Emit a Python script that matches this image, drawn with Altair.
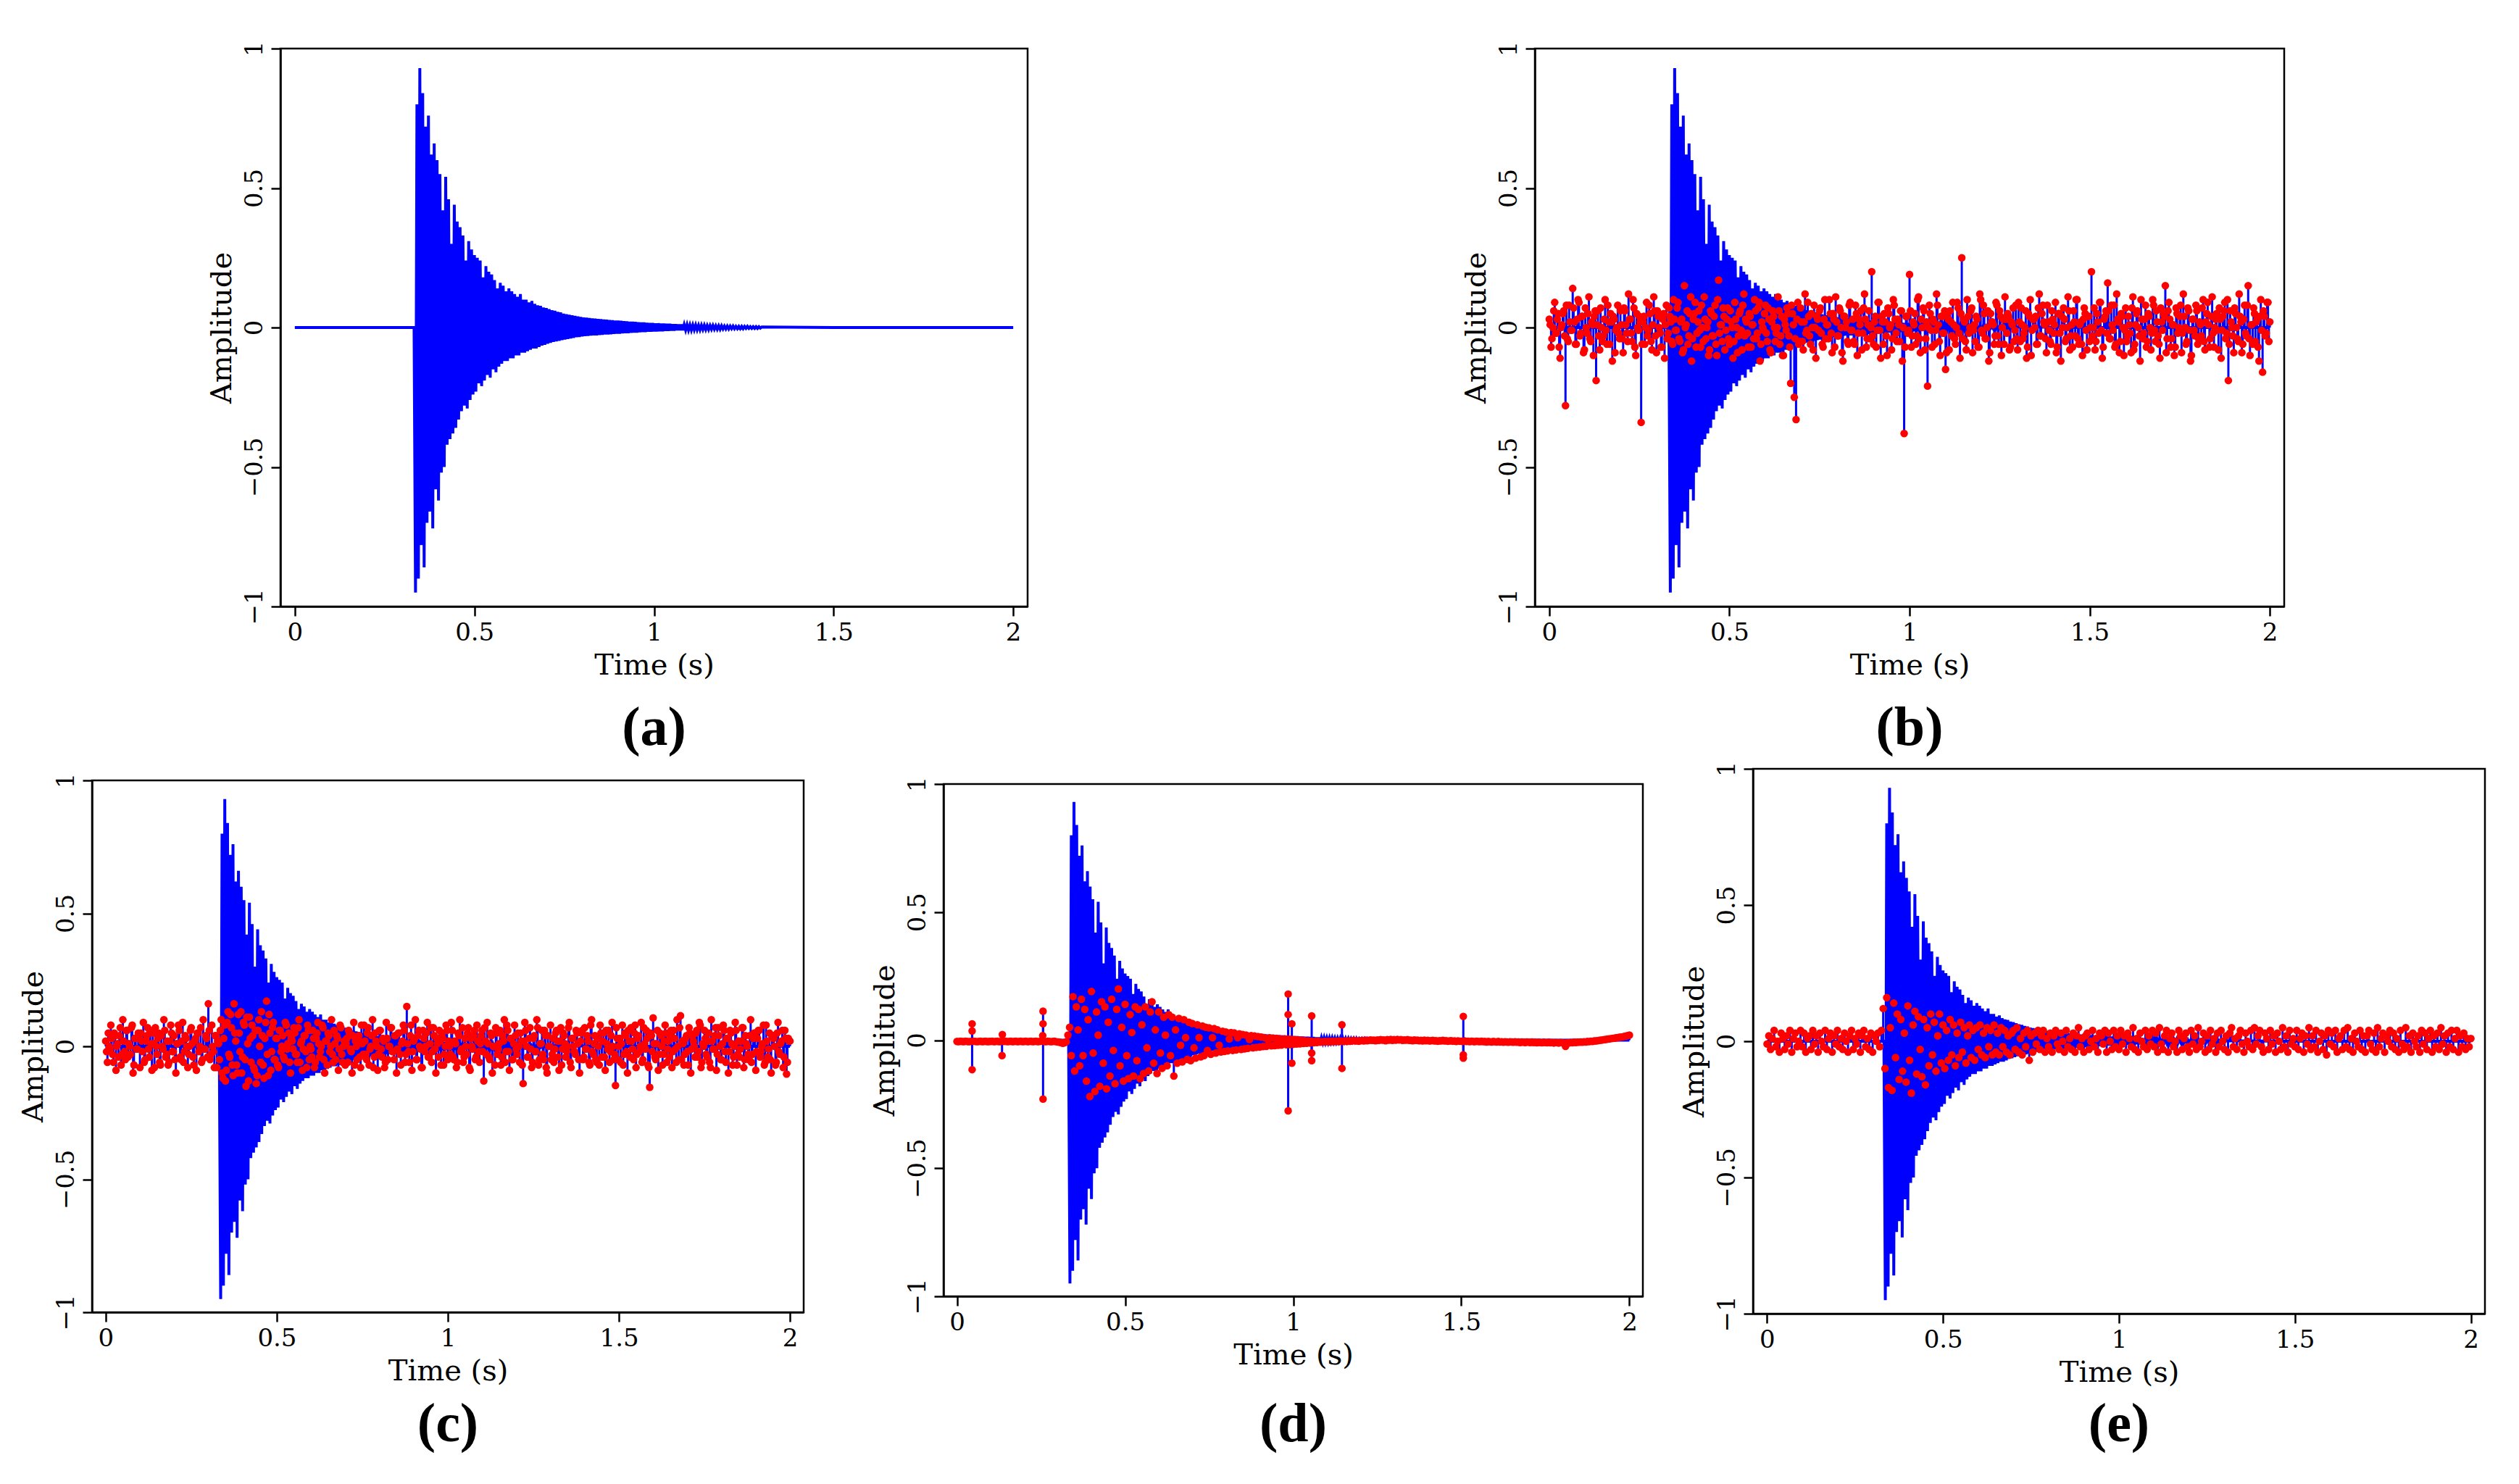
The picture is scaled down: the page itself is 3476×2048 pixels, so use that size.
import altair as alt
import pandas as pd

# ---------------- data ----------------
# clean (blue) trace: flat zero, onset at 0.332 s, decaying oscillation (4 ms samples), flat zero
CLEAN_ONSET = 0.332
CLEAN_DT = 0.004
CLEAN_SIGNAL = [
    0.00, -0.95, 0.80, -0.90, 0.93, -0.78, 0.84, -0.86, 0.72, -0.70,
    0.76, -0.66, 0.62, -0.72, 0.66, -0.58, 0.60, -0.62,
    0.55, -0.52, 0.42, -0.50, 0.54, -0.42, 0.46, -0.40, 0.30, -0.38,
    0.44, -0.36, 0.38, -0.33, 0.36, -0.30, 0.33, -0.28, 0.24, -0.29,
    0.31, -0.26, 0.28, -0.24, 0.26,
    -0.23, 0.25, -0.20, 0.24, -0.21, 0.18, -0.19, 0.22, -0.17, 0.20,
    -0.18, 0.19, -0.15, 0.17, -0.16, 0.14, -0.14, 0.16, -0.13, 0.15,
    -0.12, 0.13, -0.12, 0.14, -0.11,
    0.13, -0.11, 0.12, -0.10, 0.11, -0.10, 0.12, -0.09, 0.10, -0.09,
    0.10, -0.085, 0.09, -0.08, 0.095, -0.075, 0.085, -0.075, 0.08, -0.07,
    0.078, -0.065, 0.072, -0.062, 0.07, -0.058, 0.066, -0.055, 0.062, -0.052,
    0.06, -0.05, 0.056, -0.048, 0.054, -0.045, 0.05, -0.043, 0.048, -0.041,
    0.046, -0.039, 0.044, -0.037, 0.042, -0.035, 0.04, -0.034, 0.038, -0.032,
    0.036, -0.031, 0.035, -0.030, 0.034, -0.029, 0.033, -0.028, 0.032, -0.028,
    0.031, -0.027, 0.030, -0.026, 0.029, -0.025, 0.028, -0.025, 0.027, -0.024,
    0.026, -0.023, 0.025, -0.022, 0.025, -0.022, 0.024, -0.021, 0.023, -0.020,
    0.022, -0.020, 0.021, -0.019, 0.021, -0.018, 0.020, -0.018, 0.019, -0.017,
    0.018, -0.016, 0.018, -0.016, 0.017, -0.015, 0.016, -0.015, 0.016, -0.014,
    0.015, -0.014, 0.015, -0.013, 0.014, -0.013, 0.014, -0.012, 0.013, -0.012,
    0.013, -0.011, 0.012, -0.011, 0.012, -0.010, 0.011, -0.010, 0.011, -0.010,
    0.010, -0.009, 0.010, -0.009, 0.009, -0.009, 0.009, -0.008, 0.009, -0.008,
    0.008, -0.008, 0.008, -0.007, 0.008, -0.007, 0.007, -0.007, 0.007, -0.006,
    0.007, -0.006, 0.006, -0.006, 0.006, -0.006, 0.006, -0.005, 0.005, -0.005,
    0.005, -0.005, 0.005, -0.004, 0.005, -0.004, 0.004, -0.004, 0.004, -0.004,
    0.004, -0.004, 0.004, -0.003, 0.004, -0.003, 0.003, -0.003, 0.003, -0.003,
    0.003, -0.003, 0.003, -0.002, 0.002,
]
QUIET_END = 1.50
T_END = 2.0

# red samples (one every 5 ms) for panels b-e
RED_DT = 0.005
NOISY_B = [
    0.03, -0.07, 0.00, 0.09, -0.02, 0.05, -0.11, 0.01, 0.06, -0.28,
    -0.04, 0.08, -0.01, 0.14, 0.02, -0.06, 0.10, -0.03, 0.04, -0.09,
    0.07, -0.02, 0.11, -0.05, 0.01, 0.04, -0.19, 0.06, -0.08, 0.00,
    -0.03, 0.10, -0.06, 0.02, 0.05, -0.12, 0.03, -0.01, 0.08, -0.04,
    0.01, -0.09, 0.06, -0.02, 0.12, 0.03, -0.05, 0.07, -0.10, 0.00,
    0.04, -0.34, 0.02, -0.06, 0.09, -0.01, 0.05, -0.08, 0.11, -0.03,
    0.06, 0.00, -0.07, 0.03, -0.11, 0.08, -0.02, 0.04, -0.05, 0.10,
    -0.01, 0.07, -0.04, 0.02, -0.09, 0.15, 0.01, -0.06, 0.05, -0.12,
    0.03, 0.09, -0.02, 0.06, -0.07, 0.00, 0.11, -0.04, 0.02, -0.08,
    0.05, -0.03, 0.08, -0.10, 0.17, 0.01, -0.05, 0.04, -0.01, 0.07,
    -0.06, 0.02, -0.11, 0.09, 0.00, -0.03, 0.06, -0.08, 0.12, 0.03,
    -0.02, 0.05, -0.07, 0.01, 0.10, -0.04, 0.07, -0.12, 0.02, -0.01,
    0.08, -0.05, 0.03, -0.09, 0.06, 0.00, -0.02, 0.11, -0.06, 0.04,
    -0.10, 0.01, 0.07, -0.03, -0.20, 0.05, -0.25, -0.33, 0.09, -0.05,
    0.02, -0.08, 0.12, -0.01, 0.04, -0.06, 0.00, 0.08, -0.11, 0.03,
    0.06, -0.02, -0.07, 0.10, 0.01, -0.04, 0.05, -0.09, 0.03, 0.11,
    -0.03, 0.07, 0.00, -0.12, 0.04, 0.02, -0.06, 0.09, -0.01, -0.05,
    0.08, -0.10, 0.03, 0.06, -0.02, 0.12, -0.07, 0.01, -0.04, 0.20,
    -0.06, 0.04, -0.01, 0.09, -0.11, 0.02, 0.05, -0.03, 0.07, 0.00,
    -0.08, 0.10, 0.03, -0.05, 0.01, 0.06, -0.12, -0.38, 0.04, -0.02,
    0.19, -0.07, 0.02, 0.05, -0.03, 0.11, -0.09, 0.00, 0.06, -0.04,
    -0.21, 0.08, -0.01, 0.03, -0.06, 0.12, 0.01, -0.10, 0.04, -0.02,
    -0.15, 0.05, -0.08, 0.02, 0.09, -0.04, 0.00, 0.07, -0.11, 0.25,
    0.03, -0.05, 0.10, -0.02, 0.06, -0.09, 0.01, 0.04, -0.07, 0.12,
    -0.01, 0.08, -0.04, 0.00, -0.12, 0.05, 0.02, -0.06, 0.09, -0.03,
    0.06, -0.10, 0.03, 0.11, -0.02, 0.04, -0.07, 0.01, -0.05, 0.08,
    -0.08, 0.02, 0.07, -0.04, 0.00, -0.11, 0.05, 0.10, -0.01, 0.03,
    0.04, -0.06, 0.12, -0.03, 0.08, 0.01, -0.09, 0.02, -0.05, 0.06,
    -0.02, 0.09, -0.07, 0.05, -0.12, 0.00, 0.03, -0.04, 0.11, -0.08,
    0.01, 0.06, -0.03, 0.10, -0.06, 0.02, -0.10, 0.07, -0.01, 0.04,
    -0.05, 0.20, 0.00, -0.08, 0.05, -0.02, 0.09, -0.11, 0.03, 0.06,
    0.16, -0.04, 0.08, -0.01, -0.07, 0.12, 0.02, -0.05, 0.04, -0.10,
    0.07, -0.03, 0.01, -0.09, 0.11, -0.06, 0.05, 0.00, -0.12, 0.03,
    -0.02, 0.08, -0.05, 0.04, -0.08, 0.10, -0.01, 0.06, -0.03, -0.11,
    0.02, 0.05, 0.15, -0.04, 0.09, -0.07, 0.01, -0.10, 0.07, -0.02,
    0.04, -0.09, 0.12, 0.00, -0.05, 0.06, -0.12, 0.03, -0.01, 0.08,
    -0.06, 0.02, -0.03, 0.10, -0.08, 0.05, 0.01, -0.04, 0.11, -0.07,
    0.03, -0.01, 0.07, -0.11, 0.04, 0.09, -0.02, -0.19, 0.06, 0.00,
    -0.09, 0.05, -0.04, 0.12, 0.02, -0.06, 0.08, -0.03, 0.15, -0.10,
    0.01, 0.07, -0.05, 0.03, -0.12, 0.10, -0.16, 0.04, -0.02, 0.09,
    0.02,
]
# in-between samples of panel b (half a step later)
NOISY_B_MID = [
    0.01, -0.04, 0.06, -0.02, 0.03, -0.07, 0.00, 0.05, -0.03, 0.08,
    -0.05, 0.02, -0.01, 0.07, -0.06, 0.03, 0.09, -0.02, 0.04, -0.08,
    0.00, 0.05, -0.04, 0.02, -0.10, 0.06, 0.01, -0.03, 0.07, -0.05,
    0.03, -0.01, 0.08, -0.06, 0.02, 0.04, -0.09, 0.00, -0.02, 0.06,
    -0.04, 0.07, 0.01, -0.05, 0.03, -0.02, 0.10, -0.07, 0.05, -0.01,
    0.02, -0.06, 0.04, 0.00, -0.03, 0.08, -0.05, 0.01, 0.06, -0.09,
    0.04, -0.02, -0.07, 0.05, 0.01, -0.04, 0.07, 0.02, -0.06, 0.03,
    -0.01, 0.09, -0.05, 0.03, -0.08, 0.00, 0.06, -0.03, 0.11, -0.04,
    0.05, -0.07, 0.02, -0.01, 0.08, -0.05, 0.03, 0.00, -0.10, 0.06,
    -0.03, 0.04, -0.06, 0.10, -0.02, 0.01, 0.07, -0.08, 0.03, -0.04,
    0.06, 0.00, -0.05, 0.03, -0.09, 0.05, -0.01, 0.08, -0.03, 0.02,
    -0.07, 0.04, 0.01, -0.04, 0.06, -0.02, 0.09, -0.06, 0.00, 0.05,
    -0.02, 0.07, -0.08, 0.02, 0.04, -0.05, 0.00, 0.06, -0.03, -0.10,
    0.03, -0.01, 0.05, -0.07, 0.08, 0.01, -0.04, 0.03, -0.06, 0.07,
    -0.05, 0.02, -0.02, 0.09, -0.03, 0.05, -0.08, 0.00, 0.04, -0.01,
    0.07, -0.06, 0.03, -0.04, 0.01, 0.10, -0.02, 0.05, -0.07, 0.02,
    -0.03, 0.06, -0.09, 0.04, 0.00, -0.05, 0.08, -0.01, 0.03, -0.06,
    0.05, -0.02, 0.01, -0.08, 0.07, 0.03, -0.04, 0.06, 0.00, -0.03,
    0.02, -0.07, 0.09, -0.01, 0.04, -0.06, 0.02, -0.10, 0.05, 0.01,
    -0.04, 0.08, -0.02, 0.03, -0.05, 0.06, 0.00, -0.07, 0.04, -0.01,
    0.06, -0.03, 0.01, -0.06, 0.10, -0.04, 0.03, 0.07, -0.08, 0.02,
    0.00, 0.05, -0.07, 0.02, -0.01, 0.08, -0.05, 0.04, -0.02, 0.06,
    -0.09, 0.03, 0.06, -0.03, 0.01, -0.06, 0.09, -0.02, 0.05, -0.04,
    0.02, -0.08, 0.04, 0.00, 0.07, -0.01, -0.05, 0.03, -0.07, 0.10,
    -0.02, 0.05, -0.04, 0.06, -0.09, 0.02, 0.01, -0.03, 0.08, -0.06,
    0.04, 0.00, -0.06, 0.03, 0.05, -0.08, 0.02, 0.07, -0.01, -0.04,
    0.09, -0.05, 0.01, -0.02, 0.06, -0.07, 0.04, -0.10, 0.03, 0.00,
    -0.06, 0.07, -0.03, 0.05, 0.02, -0.04, 0.08, -0.01, -0.06, 0.03,
    0.01, -0.09, 0.05, -0.02, 0.04, 0.07, -0.05, 0.00, 0.06, -0.03,
    -0.07, 0.02, 0.10, -0.04, 0.01, -0.06, 0.03, 0.05, -0.08, 0.04,
    0.00, -0.03, 0.07, -0.05, 0.02, 0.09, -0.01, -0.07, 0.04, -0.02,
    0.06, -0.04, 0.01, 0.08, -0.06, 0.03, -0.09, 0.05, 0.00, -0.01,
    -0.05, 0.04, -0.02, 0.07, -0.08, 0.01, 0.06, -0.03, 0.10, -0.04,
    0.03, -0.07, 0.05, 0.00, -0.02, 0.08, -0.05, 0.02, -0.06, 0.07,
    -0.01, 0.04, -0.09, 0.06, 0.03, -0.04, 0.01, -0.07, 0.05, 0.00,
    0.08, -0.02, 0.04, -0.06, 0.07, -0.01, -0.10, 0.03, -0.03, 0.06,
    -0.04, 0.01, 0.07, -0.05, 0.02, 0.09, -0.07, 0.04, -0.02, 0.00,
    0.05, -0.08, 0.03, -0.01, 0.06, -0.04, 0.10, -0.06, 0.02, -0.03,
    0.07, 0.00, -0.05, 0.04, -0.09, 0.03, -0.02, 0.08, -0.04, 0.01,
    -0.06, 0.05, 0.02, -0.07, 0.04, -0.01, 0.06, -0.03, 0.09, -0.05,
]
NOISY_C = [
    0.02, -0.06, 0.00, 0.08, -0.03, 0.05, -0.09, 0.01, 0.04, -0.07,
    0.10, -0.02, 0.06, -0.04, 0.00, 0.07, -0.10, 0.03, -0.01, 0.05,
    -0.08, 0.02, 0.09, -0.05, 0.04, -0.01, 0.06, -0.09, 0.01, 0.07,
    -0.03, 0.05, -0.07, 0.00, 0.10, -0.04, 0.02, -0.06, 0.08, -0.02,
    0.04, -0.10, 0.01, 0.06, -0.05, 0.09, -0.02, 0.03, -0.08, 0.00,
    0.07, -0.04, 0.02, -0.09, 0.05, 0.00, -0.06, 0.10, -0.01, 0.03,
    0.16, -0.05, 0.08, -0.02, 0.04, -0.08, 0.01, 0.06, -0.10, 0.03,
    -0.13, 0.09, -0.03, 0.12, -0.07, 0.16, 0.02, -0.10, 0.05, 0.13,
    -0.04, 0.08, -0.15, 0.01, 0.11, -0.06, 0.04, -0.09, -0.14, 0.06,
    0.00, 0.13, -0.07, 0.03, 0.17, -0.11, 0.05, -0.02, 0.09, -0.05,
    0.03, -0.08, 0.06, 0.00, -0.04, 0.09, -0.01, 0.05, -0.10, 0.02,
    0.07, -0.03, -0.06, 0.10, 0.01, -0.09, 0.04, -0.02, 0.08, -0.05,
    -0.01, 0.06, -0.08, 0.03, 0.09, -0.04, 0.00, 0.07, -0.10, 0.02,
    0.05, -0.02, 0.10, -0.06, 0.01, 0.04, -0.09, 0.08, -0.03, 0.00,
    -0.07, 0.03, 0.06, -0.01, -0.10, 0.09, 0.02, -0.05, 0.04, -0.08,
    0.01, 0.08, -0.03, 0.05, -0.07, 0.00, 0.10, -0.04, 0.02, -0.09,
    0.06, -0.01, 0.03, -0.08, 0.09, -0.05, 0.00, 0.07, -0.02, 0.04,
    -0.10, 0.05, -0.03, 0.01, 0.08, -0.06, 0.15, -0.02, 0.04, -0.09,
    0.02, 0.10, -0.05, 0.06, -0.01, -0.08, 0.03, 0.00, 0.09, -0.04,
    0.07, -0.02, 0.04, -0.10, 0.01, 0.06, -0.07, 0.03, -0.03, 0.08,
    -0.05, 0.00, 0.09, -0.04, 0.02, -0.08, 0.05, 0.10, -0.01, -0.06,
    0.03, -0.03, 0.07, -0.09, 0.00, 0.04, -0.05, 0.08, -0.02, 0.01,
    0.06, -0.13, 0.02, 0.09, -0.04, 0.05, -0.10, 0.00, 0.07, -0.03,
    0.01, -0.07, 0.04, 0.10, -0.02, 0.06, -0.09, 0.03, -0.05, 0.08,
    -0.01, 0.05, -0.06, 0.02, -0.14, 0.09, 0.00, -0.04, 0.07, -0.08,
    0.03, -0.02, 0.10, -0.07, 0.01, 0.06, -0.05, 0.04, -0.10, 0.00,
    0.08, -0.03, -0.06, 0.05, 0.02, -0.09, 0.07, -0.01, 0.04, -0.04,
    0.00, 0.09, -0.08, 0.03, -0.02, 0.06, 0.01, -0.10, 0.05, -0.05,
    0.07, -0.01, 0.02, -0.07, 0.10, -0.03, 0.04, -0.06, 0.00, 0.08,
    -0.04, 0.05, -0.09, 0.01, 0.06, -0.02, 0.09, -0.05, -0.147, 0.03,
    0.00, -0.06, 0.08, -0.03, 0.04, -0.10, 0.02, 0.07, -0.01, 0.05,
    -0.08, 0.03, -0.02, 0.09, -0.05, 0.01, 0.06, -0.07, -0.154, 0.04,
    0.107, -0.04, 0.01, -0.09, 0.05, 0.00, -0.03, 0.08, -0.06, 0.02,
    0.04, -0.08, 0.06, -0.01, 0.10, -0.05, 0.115, 0.02, -0.07, 0.03,
    -0.02, 0.07, -0.10, 0.04, 0.00, 0.05, -0.04, 0.09, -0.08, 0.01,
    0.06, -0.03, 0.02, -0.06, 0.10, -0.01, 0.04, -0.09, 0.07, 0.00,
    -0.05, 0.08, -0.02, 0.03, -0.10, 0.06, 0.01, -0.04, 0.09, -0.07,
    0.02, -0.01, 0.07, -0.08, 0.04, 0.00, -0.05, 0.10, -0.03, 0.05,
    -0.09, 0.03, 0.06, -0.02, 0.01, -0.07, 0.08, -0.04, 0.05, -0.10,
    0.04, 0.00, -0.06, 0.09, -0.03, 0.02, -0.08, 0.06, -0.104, 0.03,
    0.02,
]
# in-between samples of panel c (half a step later)
NOISY_C_MID = [
    -0.02, 0.05, -0.01, 0.03, -0.06, 0.04, 0.00, -0.04, 0.07, -0.03,
    0.02, -0.05, 0.06, 0.01, -0.03, 0.08, -0.07, 0.03, -0.01, 0.04,
    0.05, -0.02, -0.06, 0.02, 0.07, -0.04, 0.01, 0.05, -0.08, 0.00,
    0.03, -0.06, 0.04, -0.01, 0.06, -0.03, -0.07, 0.02, 0.05, -0.02,
    -0.05, 0.01, 0.08, -0.04, 0.02, -0.06, 0.04, 0.00, -0.03, 0.06,
    0.01, -0.07, 0.03, 0.05, -0.02, 0.07, -0.05, -0.01, 0.04, -0.04,
    0.06, -0.03, 0.00, -0.08, 0.04, 0.02, -0.05, 0.10, -0.12, 0.08,
    -0.09, 0.13, -0.04, 0.07, -0.11, 0.05, -0.07, 0.12, -0.02, -0.10,
    0.09, -0.05, 0.11, -0.13, 0.03, 0.08, -0.08, 0.06, -0.11, 0.10,
    -0.06, 0.04, -0.12, 0.09, -0.03, 0.12, -0.09, 0.07, -0.05, 0.03,
    -0.07, 0.06, -0.02, 0.04, -0.05, 0.08, 0.01, -0.06, 0.03, -0.01,
    0.05, -0.03, 0.07, -0.06, 0.02, -0.01, 0.04, -0.08, 0.06, 0.00,
    -0.04, 0.03, -0.06, 0.05, 0.01, -0.02, 0.08, -0.05, 0.02, -0.07,
    0.04, 0.00, -0.03, 0.06, -0.05, 0.03, -0.01, 0.07, -0.06, 0.02,
    0.01, -0.06, 0.05, -0.02, 0.04, -0.07, 0.00, 0.03, -0.04, 0.08,
    -0.03, 0.02, -0.05, 0.07, -0.01, 0.04, -0.08, 0.05, 0.00, -0.03,
    0.06, -0.04, 0.02, -0.06, 0.03, 0.00, 0.07, -0.02, -0.05, 0.04,
    -0.01, 0.05, -0.07, 0.02, 0.06, -0.03, 0.01, -0.06, 0.08, -0.02,
    0.03, -0.05, 0.04, 0.00, -0.08, 0.06, -0.02, 0.05, -0.04, 0.01,
    -0.06, 0.07, -0.01, 0.03, -0.04, 0.02, 0.05, -0.07, 0.00, 0.06,
    0.02, -0.03, 0.06, -0.05, 0.01, -0.06, 0.04, -0.02, 0.07, -0.04,
    0.00, 0.05, -0.08, 0.03, -0.01, 0.06, -0.04, 0.02, -0.06, 0.04,
    -0.02, 0.07, -0.03, 0.01, -0.05, 0.04, 0.00, -0.07, 0.05, -0.01,
    0.06, -0.04, 0.02, -0.06, 0.08, -0.02, 0.03, -0.05, 0.01, 0.04,
    -0.03, 0.00, 0.05, -0.07, 0.02, 0.06, -0.04, 0.03, -0.01, -0.06,
    0.04, -0.02, 0.07, -0.05, 0.01, -0.03, 0.06, -0.08, 0.04, 0.00,
    -0.05, 0.03, -0.01, 0.06, -0.04, 0.02, -0.07, 0.05, 0.01, -0.02,
    0.07, -0.06, 0.03, 0.00, -0.03, 0.05, -0.05, 0.02, 0.06, -0.04,
    -0.01, 0.04, -0.06, 0.08, -0.02, 0.01, -0.05, 0.03, -0.07, 0.05,
    0.02, -0.04, 0.06, -0.01, -0.06, 0.04, 0.00, -0.03, 0.07, -0.05,
    0.03, 0.01, -0.07, 0.05, -0.02, 0.06, -0.04, 0.02, -0.05, 0.08,
    -0.03, 0.04, 0.00, -0.06, 0.07, -0.01, 0.03, -0.08, 0.05, -0.02,
    0.01, -0.05, 0.06, -0.03, 0.04, -0.07, 0.02, 0.05, -0.01, -0.04,
    0.06, -0.02, 0.03, -0.06, 0.00, 0.07, -0.05, 0.01, -0.03, 0.04,
    -0.07, 0.05, -0.01, 0.02, -0.04, 0.06, -0.02, 0.08, -0.06, 0.00,
    0.03, -0.04, 0.05, -0.08, 0.02, -0.01, 0.07, -0.03, 0.04, -0.05,
    0.01, 0.06, -0.06, 0.03, -0.02, 0.05, -0.07, 0.00, 0.06, -0.03,
    -0.04, 0.02, 0.07, -0.05, 0.01, -0.03, 0.04, -0.06, 0.03, 0.05,
    -0.02, 0.06, -0.04, 0.00, 0.08, -0.06, 0.02, -0.01, -0.05, 0.04,
    0.03, -0.07, 0.05, -0.02, 0.01, 0.06, -0.04, 0.03, -0.06, 0.02,
]
NOISY_D = [
    -0.005, -0.006, -0.004, -0.005, -0.006, -0.004, -0.005, -0.006, -0.005, 0.036,
    -0.004, -0.005, -0.006, -0.005, -0.004, -0.006, -0.005, -0.004, -0.006, -0.005,
    -0.005, -0.004, -0.006, -0.005, -0.004, -0.006, -0.005, 0.022, -0.005, -0.004,
    -0.006, -0.005, -0.004, -0.006, -0.005, -0.004, -0.006, -0.005, -0.004, -0.006,
    -0.005, -0.004, -0.006, -0.005, -0.004, -0.006, -0.005, -0.004, -0.006, -0.005,
    -0.004, 0.018, -0.005, -0.006, -0.004, -0.005, -0.006, -0.005, -0.004, -0.006,
    -0.007, -0.008, -0.010, -0.012, -0.010, -0.006, 0.020, 0.050, -0.060, 0.170,
    -0.120, 0.130, 0.040, -0.100, 0.160, -0.060, 0.120, -0.160, 0.080, -0.220,
    0.190, -0.050, -0.200, 0.110, 0.020, -0.180, 0.150, -0.090, 0.130, -0.190,
    0.070, -0.140, 0.160, -0.040, -0.170, 0.120, 0.200, -0.100, 0.050, -0.160,
    0.140, -0.060, -0.150, 0.100, 0.030, -0.140, 0.130, -0.080, 0.120, -0.150,
    0.060, -0.130, 0.130, -0.030, -0.120, 0.110, 0.150, -0.090, 0.040, -0.130,
    0.110, -0.050, -0.110, 0.090, 0.020, -0.100, 0.100, -0.060, 0.090, -0.140,
    0.040, -0.090, 0.085, -0.020, -0.085, 0.080, 0.010, -0.075, 0.070, -0.080,
    0.065, -0.030, -0.070, 0.060, 0.010, -0.065, 0.055, -0.060, 0.050, -0.040,
    0.048, -0.055, 0.010, 0.045, -0.050, 0.040, -0.020, -0.046, 0.035, -0.044,
    0.032, -0.042, 0.005, 0.030, -0.040, 0.028, -0.038, 0.010, 0.025, -0.036,
    0.022, -0.034, 0.020, -0.032, 0.003, 0.018, -0.030, 0.016, -0.028, 0.014,
    -0.027, 0.012, -0.025, 0.010, -0.024, 0.002, 0.009, -0.022, 0.008, -0.021,
    0.007, -0.020, 0.006, -0.019, 0.000, 0.005, -0.018, 0.004, -0.017, 0.003,
    -0.016, 0.002, -0.015, 0.001, -0.014, 0.000, -0.013, -0.002, -0.012, -0.003,
    -0.011, -0.004, -0.010, -0.005, -0.009, -0.004, -0.008, -0.006, -0.007, -0.005,
    -0.006, -0.005, -0.007, -0.004, -0.006, -0.005, -0.004, -0.006, -0.003, -0.005,
    -0.004, -0.003, -0.005, -0.002, -0.004, -0.003, -0.001, -0.003, -0.002, -0.004,
    -0.002, -0.001, -0.003, 0.000, -0.002, -0.001, 0.001, -0.001, 0.000, -0.002,
    0.001, -0.001, 0.002, 0.000, 0.001, -0.002, 0.002, 0.000, 0.003, -0.001,
    0.002, 0.000, 0.003, 0.001, 0.002, -0.001, 0.001, 0.000, 0.002, -0.001,
    0.000, -0.002, 0.001, -0.001, 0.000, -0.002, -0.001, -0.003, 0.000, -0.002,
    -0.001, -0.003, -0.002, -0.001, -0.003, -0.002, -0.004, -0.002, -0.003, -0.001,
    -0.003, -0.002, -0.004, -0.003, -0.002, -0.004, -0.003, -0.005, -0.003, -0.004,
    -0.004, -0.005, -0.003, -0.005, -0.004, -0.006, -0.004, -0.005, -0.006, -0.004,
    -0.005, -0.006, -0.004, -0.006, -0.005, -0.007, -0.005, -0.006, -0.007, -0.005,
    -0.006, -0.007, -0.005, -0.007, -0.006, -0.008, -0.006, -0.007, -0.008, -0.006,
    -0.007, -0.008, -0.006, -0.008, -0.007, -0.009, -0.007, -0.008, -0.009, -0.007,
    -0.008, -0.009, -0.007, -0.009, -0.008, -0.010, -0.008, -0.009, -0.010, -0.008,
    -0.009, -0.010, -0.008, -0.010, -0.009, -0.011, -0.009, -0.010, -0.011, -0.009,
    -0.010, -0.011, -0.024, -0.010, -0.011, -0.009, -0.010, -0.008, -0.009, -0.008,
    -0.008, -0.007, -0.008, -0.006, -0.007, -0.005, -0.006, -0.004, -0.005, -0.003,
    -0.003, -0.002, -0.001, 0.000, 0.001, 0.002, 0.003, 0.004, 0.005, 0.006,
    0.007, 0.008, 0.009, 0.010, 0.011, 0.012, 0.013, 0.015, 0.016, 0.018,
    0.020,
]
# isolated spikes in panel d (time, value)
SPIKES_D_T = [0.045, 0.045, 0.134, 0.256, 0.256, 0.256, 0.985, 0.985, 0.985, 0.996,
              0.996, 1.055, 1.055, 1.055, 1.145, 1.145, 1.506, 1.506, 1.506]
SPIKES_D_V = [0.064, -0.115, -0.060, 0.113, 0.064, -0.230, 0.180, 0.100, -0.276, 0.064,
              -0.090, 0.095, -0.050, -0.080, 0.060, -0.110, 0.093, -0.057, -0.070]
NOISY_E = [
    -0.01, 0.02, -0.03, 0.01, 0.04, -0.02, 0.00, -0.04, 0.03, 0.01,
    -0.03, 0.02, -0.01, 0.04, -0.04, 0.01, 0.03, -0.02, 0.00, 0.04,
    -0.02, 0.03, -0.04, 0.01, 0.02, -0.03, 0.04, -0.01, 0.02, -0.04,
    0.03, 0.00, -0.02, 0.04, -0.03, 0.01, 0.03, -0.04, 0.02, -0.01,
    0.04, -0.02, 0.01, -0.03, 0.03, 0.00, -0.04, 0.02, 0.04, -0.03,
    0.01, -0.01, 0.03, -0.04, 0.02, 0.04, -0.02, 0.01, -0.03, 0.03,
    -0.04, 0.02, 0.00, 0.03, -0.02, 0.04, 0.12, -0.10, 0.16, -0.17,
    0.05, -0.18, 0.14, -0.06, 0.10, -0.14, 0.08, -0.11, 0.03, -0.15,
    0.13, -0.07, -0.19, 0.06, 0.11, -0.12, 0.09, -0.03, -0.13, 0.08,
    -0.16, 0.05, -0.09, 0.10, -0.05, 0.07, -0.11, 0.02, 0.10, -0.08,
    0.06, -0.10, 0.04, -0.07, 0.08, -0.05, 0.06, -0.09, 0.03, -0.06,
    0.07, -0.04, 0.05, -0.08, 0.02, 0.06, -0.06, 0.04, -0.07, 0.05,
    -0.03, 0.06, -0.05, 0.03, -0.06, 0.05, -0.02, 0.04, -0.05, 0.06,
    -0.04, 0.03, -0.05, 0.05, -0.02, 0.04, -0.04, 0.02, -0.05, 0.03,
    0.04, -0.03, 0.05, -0.04, 0.01, -0.05, 0.03, -0.02, 0.04, -0.07,
    0.02, -0.04, 0.03, -0.01, 0.04, -0.03, 0.02, 0.04, -0.04, 0.01,
    -0.02, 0.03, -0.04, 0.02, 0.04, -0.01, -0.03, 0.03, 0.00, -0.04,
    0.04, -0.02, 0.01, -0.03, 0.03, -0.04, 0.02, 0.05, -0.02, 0.01,
    -0.04, 0.02, 0.03, -0.03, 0.00, 0.04, -0.02, 0.01, -0.04, 0.03,
    0.02, -0.01, 0.04, -0.04, 0.03, 0.00, -0.03, 0.04, -0.02, 0.02,
    -0.03, 0.04, -0.01, 0.02, -0.04, 0.03, 0.01, -0.02, 0.05, -0.03,
    0.01, -0.04, 0.03, 0.00, -0.02, 0.04, -0.03, 0.02, -0.01, 0.04,
    -0.02, 0.03, -0.04, 0.05, -0.01, -0.03, 0.02, 0.04, -0.04, 0.01,
    0.03, -0.02, 0.00, -0.04, 0.04, 0.02, -0.03, 0.01, 0.03, -0.02,
    -0.04, 0.04, -0.01, 0.02, -0.03, 0.05, -0.02, 0.00, 0.03, -0.04,
    0.02, -0.03, 0.04, -0.01, 0.01, -0.04, 0.03, -0.02, 0.04, 0.00,
    -0.03, 0.02, -0.04, 0.03, 0.05, -0.02, 0.01, -0.03, 0.02, 0.04,
    -0.01, -0.04, 0.03, 0.00, -0.02, 0.04, -0.03, 0.05, -0.01, 0.02,
    0.04, -0.02, -0.04, 0.03, 0.01, -0.03, 0.04, -0.01, 0.02, -0.04,
    0.03, 0.00, -0.03, 0.05, -0.02, 0.02, -0.04, 0.04, -0.01, 0.01,
    -0.02, 0.04, -0.03, 0.01, 0.03, -0.04, 0.02, -0.01, 0.05, -0.03,
    0.02, -0.02, 0.04, -0.04, 0.00, 0.03, -0.03, 0.02, -0.05, 0.04,
    -0.01, 0.03, -0.02, 0.04, -0.04, 0.01, 0.02, -0.03, 0.04, -0.02,
    0.05, -0.03, 0.01, -0.04, 0.03, 0.00, -0.02, 0.04, -0.03, 0.02,
    -0.04, 0.02, 0.04, -0.01, -0.03, 0.03, -0.04, 0.05, -0.02, 0.01,
    0.03, -0.04, 0.02, 0.00, 0.04, -0.02, 0.03, -0.03, 0.01, -0.04,
    0.04, -0.01, -0.03, 0.05, -0.02, 0.02, -0.04, 0.03, 0.00, -0.02,
    0.02, -0.04, 0.04, -0.01, 0.03, -0.03, 0.01, 0.04, -0.04, 0.02,
    -0.02, 0.03, -0.03, 0.05, -0.01, 0.02, -0.04, 0.03, -0.02, 0.04,
    -0.03, 0.01, 0.04, -0.04, 0.02, -0.02, 0.03, -0.03, 0.01, -0.02,
    0.01,
]

X_TICKS = [0, 0.5, 1, 1.5, 2]
Y_TICKS = [-1, -0.5, 0, 0.5, 1]
X_DOMAIN = [-0.04, 2.04]
Y_DOMAIN = [-1, 1]
LABELS = ["(a)", "(b)", "(c)", "(d)", "(e)"]
BLUE = "#0000ff"
RED = "#ff0000"
FONT = "DejaVu Serif"

# ---------------- build tables ----------------
clean_t = [0.0] + [CLEAN_ONSET + i * CLEAN_DT for i in range(len(CLEAN_SIGNAL))] + [QUIET_END, T_END]
clean_v = [0.0] + CLEAN_SIGNAL + [0.0, 0.0]
clean_df = pd.DataFrame({"t": clean_t, "v": clean_v})


def red_df(values, mid_values=(), extra_t=(), extra_v=()):
    t = [i * RED_DT for i in range(len(values))]
    t += [(i + 0.5) * RED_DT for i in range(len(mid_values))]
    t += list(extra_t)
    v = list(values) + list(mid_values) + list(extra_v)
    return pd.DataFrame({"t": t, "v": v, "zero": [0.0] * len(v)})


X = alt.X("t:Q", scale=alt.Scale(domain=X_DOMAIN, nice=False, zero=False),
          axis=alt.Axis(values=X_TICKS, format="~g", title="Time (s)",
                        labelFlush=False, labelOverlap=False))
Y = alt.Y("v:Q", scale=alt.Scale(domain=Y_DOMAIN, nice=False),
          axis=alt.Axis(values=Y_TICKS, format="~g", title="Amplitude",
                        labelAngle=270, labelAlign="center", labelBaseline="bottom",
                        labelFlush=False, labelOverlap=False))


def panel(label, w, h, rdf=None, label_offset=30):
    layers = [alt.Chart(clean_df).mark_line(color=BLUE, strokeWidth=4).encode(x=X, y=Y)]
    if rdf is not None:
        layers.append(alt.Chart(rdf).mark_rule(color=BLUE, strokeWidth=3).encode(
            x=X, y=Y, y2=alt.Y2("zero:Q")))
        layers.append(alt.Chart(rdf).mark_circle(color=RED, size=110, opacity=1).encode(x=X, y=Y))
    return alt.layer(*layers).properties(
        width=w, height=h,
        title=alt.TitleParams(text=label, orient="bottom", anchor="middle", offset=label_offset))


def spacer(w, h):
    return alt.Chart(pd.DataFrame({"s": [0]})).mark_point(opacity=0, size=1).encode(
        x=alt.X("s:Q", axis=None), y=alt.Y("s:Q", axis=None)
    ).properties(width=w, height=h, view=alt.ViewBackground(stroke="transparent"))


pa = panel(LABELS[0], 1031, 770)
pb = panel(LABELS[1], 1034, 770, red_df(NOISY_B, NOISY_B_MID))
pc = panel(LABELS[2], 982, 734, red_df(NOISY_C, NOISY_C_MID), label_offset=17)
pd_ = panel(LABELS[3], 965, 707, red_df(NOISY_D, (), SPIKES_D_T, SPIKES_D_V), label_offset=39)
pe = panel(LABELS[4], 1010, 752, red_df(NOISY_E), label_offset=15)

top = alt.hconcat(spacer(155, 10), alt.hconcat(pa, pb, spacing=595), spacing=0)
col_c = alt.vconcat(spacer(1, 1), pc, spacing=0)
col_d = alt.vconcat(spacer(1, 6), pd_, spacing=0)
bottom = alt.hconcat(alt.hconcat(col_c, col_d, spacing=88), pe, spacing=47)

chart = alt.vconcat(top, bottom, spacing=3).properties(
    padding={"left": 16, "top": 46, "right": 5, "bottom": 0}
).configure_axis(
    domainColor="black", domainWidth=2.5, tickColor="black", tickWidth=2.5, tickSize=13,
    labelFont=FONT, labelFontSize=34, labelColor="black", labelPadding=6,
    titleFont=FONT, titleFontSize=40, titleFontWeight="normal", titleColor="black",
    titlePadding=8, grid=False
).configure_view(
    stroke="black", strokeWidth=2.5
).configure_title(
    font="Liberation Serif", fontSize=76, fontWeight="bold", color="black"
)

chart.save("out.html", embed_options={"renderer": "svg", "actions": False})
